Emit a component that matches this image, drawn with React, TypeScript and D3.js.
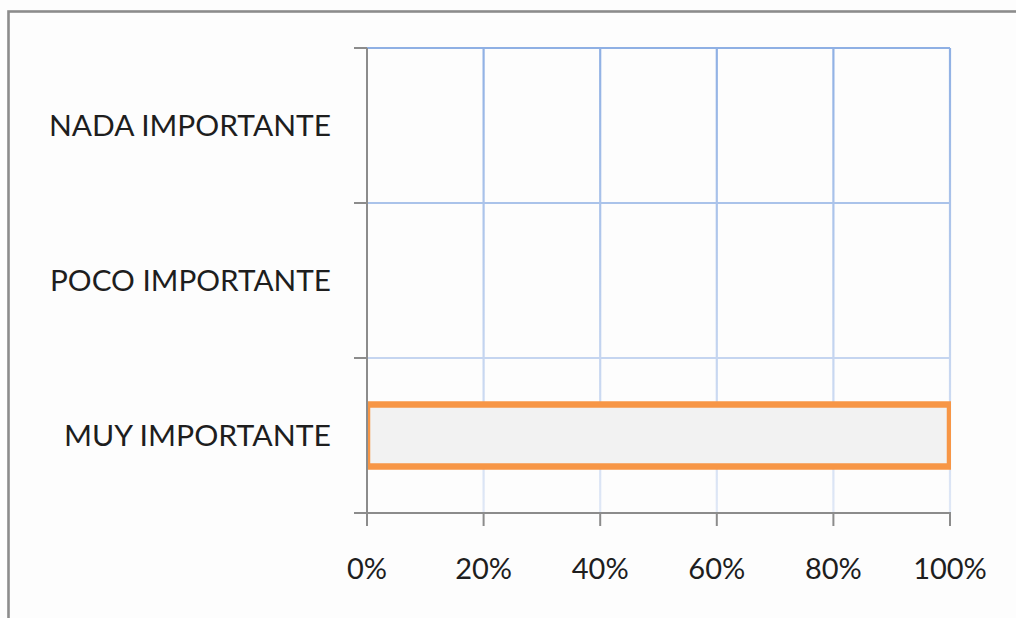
import React from "react";
import * as d3 from "d3";

const categories = ["NADA IMPORTANTE", "POCO IMPORTANTE", "MUY IMPORTANTE"];
const shares = [0, 0, 1];
const xTicks = [0, 0.2, 0.4, 0.6, 0.8, 1];
const labelWidths = [282, 281, 267];

const W = 1016;
const H = 618;
const plot = { left: 367, right: 950, top: 48, bottom: 513 };
const FONT = "Lato, 'Open Sans', sans-serif";

export default function App() {
  const x = d3.scaleLinear().domain([0, 1]).range([plot.left, plot.right]);
  const y = d3
    .scaleBand<string>()
    .domain(categories)
    .range([plot.top, plot.bottom])
    .paddingInner(0.6)
    .paddingOuter(0.3);
  const step = y.step();
  const bandEdges = d3.range(categories.length + 1).map((i) => plot.top + i * step);
  const gridColor = d3.interpolateRgb("#8fb0e4", "#e0e8f6");
  const colorAt = (yy: number) => gridColor((yy - plot.top) / (plot.bottom - plot.top));
  const fmt = d3.format(".0%");

  return (
    <svg
      width={W}
      height={H}
      style={{ position: "absolute", left: 0, top: 0, background: "#fdfdfd" }}
    >
      <defs>
        <linearGradient
          id="vgrid"
          gradientUnits="userSpaceOnUse"
          x1={0}
          y1={plot.top}
          x2={0}
          y2={plot.bottom}
        >
          <stop offset="0%" stopColor={colorAt(plot.top)} />
          <stop offset="100%" stopColor={colorAt(plot.bottom)} />
        </linearGradient>
        <clipPath id="plotClip">
          <rect x={plot.left} y={0} width={plot.right - plot.left + 1} height={H} />
        </clipPath>
      </defs>

      <rect x={0} y={0} width={W} height={H} fill="#fdfdfd" />
      {/* outer chart frame */}
      <rect
        x={8.5}
        y={11.5}
        width={W + 20}
        height={H + 20}
        fill="none"
        stroke="#8c8c8c"
        strokeWidth={2.6}
      />

      {/* gridlines */}
      {bandEdges.slice(0, -1).map((yy, i) => (
        <line
          key={"h" + i}
          x1={plot.left}
          x2={plot.right}
          y1={yy}
          y2={yy}
          stroke={colorAt(yy)}
          strokeWidth={2.2}
        />
      ))}
      {xTicks.slice(1).map((t) => (
        <line
          key={"v" + t}
          x1={x(t)}
          x2={x(t)}
          y1={plot.top}
          y2={plot.bottom}
          stroke="url(#vgrid)"
          strokeWidth={2.2}
        />
      ))}

      {/* bars */}
      <g clipPath="url(#plotClip)">
        {categories.map((c, i) =>
          shares[i] > 0 ? (
            <rect
              key={c}
              x={x(0)}
              y={y(c)!}
              width={x(shares[i]) - x(0)}
              height={y.bandwidth()}
              fill="#f2f2f2"
              stroke="#f79646"
              strokeWidth={6.5}
            />
          ) : null
        )}
      </g>

      {/* axes */}
      <line x1={plot.left} x2={plot.left} y1={plot.top} y2={plot.bottom} stroke="#8c8c8c" strokeWidth={2} />
      <line x1={plot.left - 13} x2={plot.right + 1} y1={plot.bottom} y2={plot.bottom} stroke="#8c8c8c" strokeWidth={2} />
      {bandEdges.map((yy, i) => (
        <line key={"yt" + i} x1={plot.left - 13} x2={plot.left} y1={yy} y2={yy} stroke="#8c8c8c" strokeWidth={2} />
      ))}
      {xTicks.map((t) => (
        <line key={"xt" + t} x1={x(t)} x2={x(t)} y1={plot.bottom} y2={plot.bottom + 13} stroke="#8c8c8c" strokeWidth={2} />
      ))}

      {/* category labels */}
      {categories.map((c, i) => (
        <text
          key={"l" + c}
          x={331}
          y={y(c)! + y.bandwidth() / 2 + 10.5}
          textAnchor="end"
          fontFamily={FONT}
          fontSize={29}
          fill="#1e1e1e"
          textLength={labelWidths[i]}
          lengthAdjust="spacingAndGlyphs"
        >
          {c}
        </text>
      ))}

      {/* value labels */}
      {xTicks.map((t) => (
        <text
          key={"xl" + t}
          x={x(t)}
          y={plot.bottom + 65.5}
          textAnchor="middle"
          fontFamily={FONT}
          fontSize={29}
          fill="#1e1e1e"
        >
          {fmt(t)}
        </text>
      ))}
    </svg>
  );
}
